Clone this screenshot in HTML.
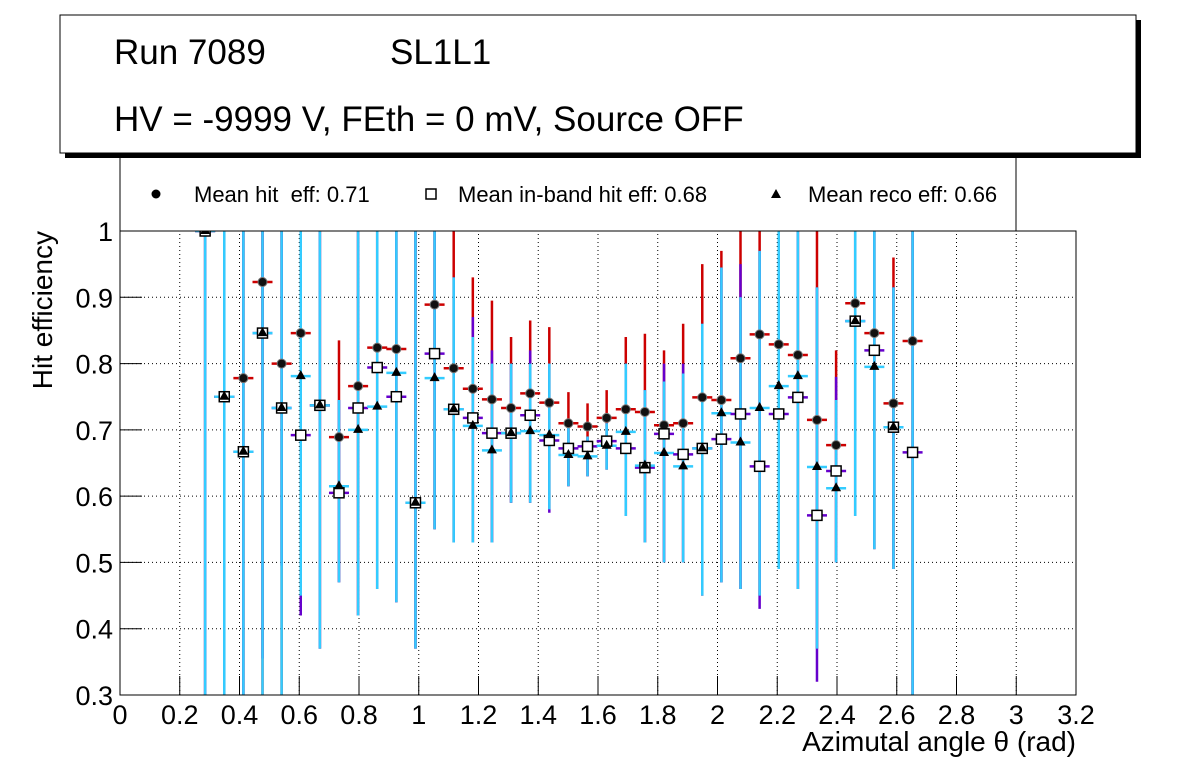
<!DOCTYPE html>
<html><head><meta charset="utf-8">
<style>
body{margin:0;background:#fff;}
svg{display:block;font-family:"Liberation Sans",sans-serif;}
</style></head>
<body>
<svg id="chart" width="1196" height="772" viewBox="0 0 1196 772">
  <rect x="0" y="0" width="1196" height="772" fill="#fff"/>
  <g id="grid"></g>
  <g id="bars"></g>
  <g id="marks"></g>
  <rect x="120" y="231" width="956" height="464" fill="none" stroke="#000" stroke-width="1"/>
  <g id="axes"></g>
  <text x="1076" y="751" text-anchor="end" font-size="28">Azimutal angle θ (rad)</text>
  <text transform="translate(52,231) rotate(-90)" text-anchor="end" font-size="28">Hit efficiency</text>
  <g>
    <rect x="120" y="155" width="896" height="76" fill="#fff" stroke="#000" stroke-width="1"/>
    <g>
      <circle cx="156" cy="194" r="4.5" fill="#000"/>
      <text x="194" y="202" font-size="22">Mean hit&#160; eff: 0.71</text>
    </g>
    <g>
      <rect x="426" y="189" width="10" height="10" fill="#fff" stroke="#000" stroke-width="1.5"/>
      <text x="458" y="202" font-size="22">Mean in-band hit eff: 0.68</text>
    </g>
    <g>
      <polygon points="776,189 771,198 781,198" fill="#000"/>
      <text x="808" y="202" font-size="22">Mean reco eff: 0.66</text>
    </g>
  </g>
  <g>
    <rect x="65" y="20" width="1076" height="138" fill="#000"/>
    <rect x="60" y="15" width="1076" height="138" fill="#fff" stroke="#000" stroke-width="1"/>
    <text x="114" y="64" font-size="35">Run 7089</text>
    <text x="390" y="64" font-size="35">SL1L1</text>
    <text x="114" y="131" font-size="35">HV = -9999 V, FEth = 0 mV, Source OFF</text>
  </g>
</svg>
<script>
const xVals=[0.285,0.349,0.413,0.477,0.541,0.605,0.669,0.733,0.797,0.861,0.925,0.989,1.053,1.117,1.181,1.245,1.309,1.373,1.437,1.501,1.565,1.629,1.693,1.757,1.821,1.885,1.949,2.013,2.077,2.141,2.205,2.269,2.333,2.397,2.461,2.525,2.589,2.653];
const hitVals=[1.0,0.75,0.778,0.923,0.80,0.846,0.737,0.689,0.766,0.824,0.822,0.59,0.889,0.793,0.762,0.746,0.733,0.755,0.741,0.71,0.705,0.718,0.731,0.727,0.707,0.71,0.749,0.745,0.808,0.844,0.829,0.813,0.715,0.677,0.891,0.846,0.740,0.834];
const inbandVals=[1.0,0.75,0.667,0.846,0.733,0.692,0.737,0.605,0.733,0.794,0.75,0.59,0.815,0.731,0.718,0.695,0.695,0.722,0.684,0.672,0.675,0.683,0.672,0.643,0.694,0.663,0.672,0.686,0.724,0.645,0.724,0.749,0.571,0.638,0.864,0.82,0.704,0.666];
const recoVals=[1.0,0.75,0.667,0.846,0.733,0.781,0.737,0.615,0.70,0.735,0.786,0.59,0.778,0.731,0.706,0.669,0.695,0.698,0.692,0.662,0.66,0.676,0.697,0.646,0.665,0.645,0.672,0.725,0.681,0.733,0.766,0.781,0.644,0.612,0.864,0.795,0.704,null];
const hitHi=[1,1,1,1,1,1,1,0.835,1,1,1,1,1,1,0.93,0.895,0.84,0.865,0.855,0.757,0.74,0.76,0.84,0.845,0.82,0.86,0.95,0.97,1,1,1,1,1,0.82,1,1,0.96,1];
const inbandHi=[1,1,1,1,1,1,1,0.745,1,1,1,1,1,0.93,0.87,0.82,0.8,0.82,0.8,0.71,0.69,0.71,0.8,0.76,0.80,0.80,0.86,0.945,0.95,0.97,1,1,0.915,0.78,1,1,0.915,1];
const inbandLo=[0.3,0.3,0.3,0.355,0.495,0.42,0.37,0.47,0.42,0.46,0.44,0.37,0.55,0.53,0.53,0.53,0.59,0.59,0.575,0.615,0.63,0.64,0.57,0.53,0.5,0.5,0.45,0.47,0.46,0.43,0.49,0.46,0.32,0.5,0.57,0.52,0.49,0.3];
const recoHi=[1,1,1,1,1,1,1,0.745,1,1,1,1,1,0.93,0.84,0.8,0.8,0.8,0.8,0.71,0.69,0.71,0.8,0.76,0.773,0.785,0.86,0.945,0.9,0.97,1,1,0.915,0.745,1,1,0.915,1];
const recoLo=[0.3,0.3,0.3,0.3,0.3,0.45,0.37,0.47,0.42,0.46,0.44,0.37,0.55,0.53,0.53,0.53,0.59,0.59,0.58,0.615,0.63,0.64,0.57,0.53,0.5,0.5,0.45,0.47,0.46,0.45,0.49,0.46,0.37,0.5,0.57,0.52,0.49,0.3];
const xTicks=["0","0.2","0.4","0.6","0.8","1","1.2","1.4","1.6","1.8","2","2.2","2.4","2.6","2.8","3","3.2"];
const yTicks=["0.3","0.4","0.5","0.6","0.7","0.8","0.9","1"];

const NS="http://www.w3.org/2000/svg";
const X0=120,X1=1076,Y0=695,Y1=231;
const sx=v=>X0+(v-0)/(3.2-0)*(X1-X0);
const sy=v=>Y0-(v-0.3)/(1-0.3)*(Y0-Y1);
const cl=v=>Math.max(0.3,Math.min(1,v));
function mk(tag,attrs,parent){const e=document.createElementNS(NS,tag);for(const k in attrs)e.setAttribute(k,attrs[k]);parent.appendChild(e);return e;}
const grid=document.getElementById('grid'),axes=document.getElementById('axes'),bars=document.getElementById('bars'),marks=document.getElementById('marks');

xTicks.forEach((t,i)=>{
  const v=parseFloat(t),x=sx(v);
  if(i>0&&i<xTicks.length-1){const g=mk('line',{x1:x,x2:x,y1:Y0,y2:Y1,stroke:'#000','stroke-dasharray':'1,3','stroke-width':1},grid);
  
  }
  mk('line',{x1:x,x2:x,y1:Y0,y2:Y0-19,stroke:'#000'},axes);
  const tx=mk('text',{x:x,y:724,'text-anchor':'middle','font-size':27},axes);
  tx.textContent=t;
  
  
});
yTicks.forEach((t,i)=>{
  const v=parseFloat(t),y=sy(v);
  if(i>0&&i<yTicks.length-1){const g=mk('line',{x1:X0,x2:X1,y1:y,y2:y,stroke:'#000','stroke-dasharray':'1,3','stroke-width':1},grid);
  
  }
  mk('line',{x1:X0,x2:X0+22,y1:y,y2:y,stroke:'#000'},axes);
  const tx=mk('text',{x:113,y:y+10,'text-anchor':'end','font-size':27},axes);
  tx.textContent=t;
  
  
});

const hw=10;
function errbar(i,val,hi,lo,color,name){
  const x=sx(xVals[i]);
  const v=mk('line',{x1:x,x2:x,y1:sy(cl(hi)),y2:sy(cl(lo)),stroke:color,'stroke-width':2.5},bars);
  
  
  if(val==null)return;
  const h=mk('line',{x1:x-hw,x2:x+hw,y1:sy(val),y2:sy(val),stroke:color,'stroke-width':2.5},bars);
  
  
}
xVals.forEach((_,i)=>{
  errbar(i,hitVals[i],hitHi[i],recoLo[i],'#cc0000','hit');
  errbar(i,inbandVals[i],inbandHi[i],inbandLo[i],'#6600cc','inband');
  errbar(i,recoVals[i],recoHi[i],recoLo[i],'#33ccff','reco');
});
xVals.forEach((xv,i)=>{
  const x=sx(xv);
  const c=mk('circle',{cx:x,cy:sy(hitVals[i]),r:4.5,fill:'#111',stroke:'#777','stroke-width':1},marks);
  
  
  const yq=sy(inbandVals[i]);
  const s=mk('rect',{x:x-5,y:yq-5,width:10,height:10,fill:'#fff',stroke:'#000','stroke-width':1.5},marks);
  
  
  if(recoVals[i]!=null){const yt=sy(recoVals[i]);
  const p=mk('polygon',{points:`${x},${yt-6} ${x-5},${yt+3} ${x+5},${yt+3}`,fill:'#000'},marks);
  
  }
});
</script>
</body></html>
